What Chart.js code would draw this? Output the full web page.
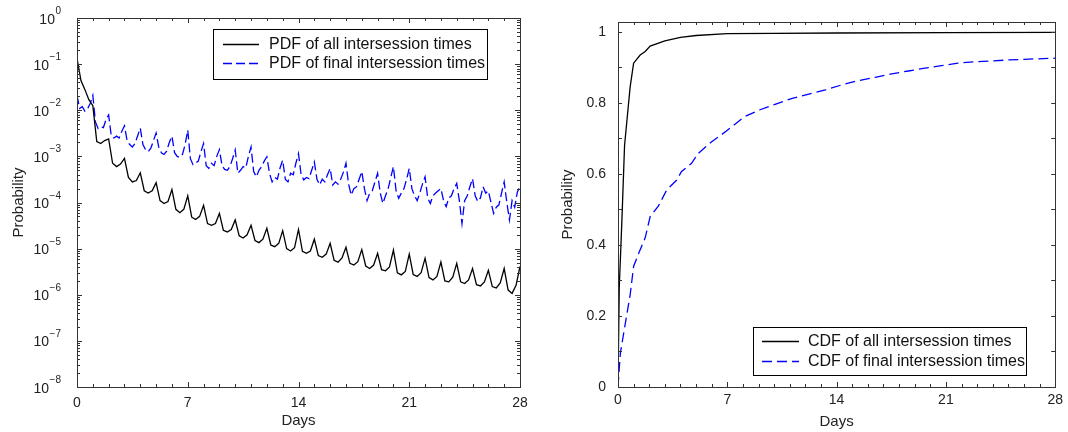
<!DOCTYPE html>
<html>
<head>
<meta charset="utf-8">
<script src="https://cdn.jsdelivr.net/npm/chart.js@4.4.1/dist/chart.umd.min.js"></script>
<style>
  html, body { margin: 0; padding: 0; background: #fff; }
  #wrap { position: relative; width: 1068px; height: 432px; overflow: hidden; }
  #pdfChart { position: absolute; left: 0; top: 0; }
  #cdfChart { position: absolute; left: 540px; top: 0; }
</style>
</head>
<body>
<div id="wrap">
  <canvas id="pdfChart" width="540" height="432"></canvas>
  <canvas id="cdfChart" width="528" height="432"></canvas>
</div>
<script>
/* --- DATA --- */
// PDF of all intersession times, one sample every 6 hours
const pdfAllStep = 0.25;
const pdfAll = [
  1.33e-1, 4.4e-2, 2.8e-2, 1.7e-2,
  1.26e-2, 2.1e-3, 1.9e-3, 2.2e-3,
  2.4e-3, 7.1e-4, 6.0e-4, 6.8e-4,
  9.1e-4, 3.5e-4, 2.8e-4, 3.0e-4,
  4.4e-4, 1.8e-4, 1.6e-4, 1.8e-4,
  2.7e-4, 1.1e-4, 9.5e-5, 1.05e-4,
  1.9e-4, 7.1e-5, 6.0e-5, 7.1e-5,
  1.4e-4, 4.8e-5, 4.3e-5, 5.0e-5,
  8.7e-5, 3.5e-5, 3.2e-5, 3.5e-5,
  5.8e-5, 2.5e-5, 2.3e-5, 2.6e-5,
  4.2e-5, 1.9e-5, 1.7e-5, 2.0e-5,
  3.2e-5, 1.5e-5, 1.35e-5, 1.6e-5,
  2.75e-5, 1.2e-5, 1.1e-5, 1.3e-5,
  2.45e-5, 1.0e-5, 8.9e-6, 1.05e-5,
  2.6e-5, 8.7e-6, 7.9e-6, 8.9e-6,
  1.6e-5, 7.1e-6, 6.5e-6, 7.6e-6,
  1.3e-5, 5.6e-6, 5.1e-6, 6.3e-6,
  1.07e-5, 4.8e-6, 4.4e-6, 5.2e-6,
  9.5e-6, 4.2e-6, 3.7e-6, 4.4e-6,
  7.9e-6, 3.5e-6, 3.3e-6, 4.0e-6,
  9.3e-6, 3.0e-6, 2.7e-6, 3.2e-6,
  7.6e-6, 2.75e-6, 2.5e-6, 3.0e-6,
  6.2e-6, 2.35e-6, 2.1e-6, 2.5e-6,
  5.1e-6, 2.0e-6, 1.9e-6, 2.4e-6,
  4.8e-6, 1.9e-6, 1.75e-6, 2.1e-6,
  3.7e-6, 1.65e-6, 1.55e-6, 1.9e-6,
  3.4e-6, 1.5e-6, 1.4e-6, 1.8e-6,
  3.7e-6, 1.26e-6, 1.07e-6, 1.6e-6,
  4.1e-6
];
// PDF of final intersession times, one sample every 4 hours
const pdfFinalStep = 1 / 6;
const pdfFinal = [
  2.1e-2, 1.1e-2, 1.2e-2, 9.5e-3, 1.07e-2, 1.4e-2,
  2.1e-2, 5.6e-3, 4.0e-3, 4.4e-3, 4.2e-3, 6.3e-3,
  7.9e-3, 2.8e-3, 2.5e-3, 2.75e-3, 2.5e-3, 3.5e-3,
  4.6e-3, 2.2e-3, 1.8e-3, 1.6e-3, 1.9e-3, 2.8e-3,
  4.1e-3, 1.8e-3, 1.4e-3, 1.26e-3, 1.5e-3, 2.2e-3,
  3.2e-3, 1.6e-3, 1.2e-3, 1.1e-3, 1.3e-3, 2.0e-3,
  2.75e-3, 1.2e-3, 1.0e-3, 9.5e-4, 1.1e-3, 1.8e-3,
  3.7e-3, 8.9e-4, 6.6e-4, 7.1e-4, 7.9e-4, 1.26e-3,
  1.9e-3, 6.3e-4, 5.5e-4, 7.1e-4, 6.3e-4, 1.0e-3,
  1.4e-3, 6.3e-4, 5.2e-4, 5.0e-4, 6.0e-4, 8.9e-4,
  1.38e-3, 4.3e-4, 5.0e-4, 6.0e-4, 5.6e-4, 1.0e-3,
  1.6e-3, 4.7e-4, 3.6e-4, 5.0e-4, 6.0e-4, 7.9e-4,
  9.8e-4, 4.3e-4, 2.8e-4, 3.5e-4, 3.2e-4, 5.6e-4,
  8.3e-4, 3.2e-4, 2.8e-4, 4.3e-4, 4.0e-4, 7.1e-4,
  1.15e-3, 4.0e-4, 3.1e-4, 3.5e-4, 3.3e-4, 5.0e-4,
  7.6e-4, 3.2e-4, 2.4e-4, 3.2e-4, 2.8e-4, 4.0e-4,
  5.5e-4, 2.4e-4, 2.8e-4, 2.5e-4, 3.2e-4, 4.5e-4,
  7.1e-4, 2.5e-4, 1.45e-4, 2.0e-4, 2.2e-4, 3.2e-4,
  4.7e-4, 2.0e-4, 1.1e-4, 1.6e-4, 1.8e-4, 2.8e-4,
  4.3e-4, 1.6e-4, 9.5e-5, 1.4e-4, 2.0e-4, 3.5e-4,
  6.0e-4, 1.8e-4, 1.23e-4, 1.6e-4, 2.0e-4, 3.2e-4,
  5.5e-4, 2.0e-4, 1.4e-4, 1.1e-4, 1.6e-4, 2.5e-4,
  3.6e-4, 1.26e-4, 9.5e-5, 1.4e-4, 1.6e-4, 1.8e-4,
  2.0e-4, 1.1e-4, 8.1e-5, 1.26e-4, 1.4e-4, 2.0e-4,
  2.6e-4, 1.1e-4, 3.5e-5, 1.1e-4, 1.4e-4, 2.2e-4,
  3.3e-4, 1.4e-4, 1.05e-4, 1.26e-4, 2.2e-4, 1.6e-4,
  1.8e-4, 1.0e-4, 5.8e-5, 7.9e-5, 8.9e-5, 1.6e-4,
  2.8e-4, 1.0e-4, 4.2e-5, 1.1e-4, 7.9e-5, 1.7e-4,
  2.2e-4
];
// CDFs
const cdfAllDays = [0, 0.08, 0.25, 0.42, 0.57, 0.78, 1.0, 1.42, 1.74, 2.06, 3, 4, 5, 7, 10, 14, 21, 28];
const cdfAll = [0, 0.28, 0.47, 0.68, 0.75, 0.846, 0.912, 0.935, 0.945, 0.96, 0.975, 0.985, 0.99, 0.995, 0.996, 0.997, 0.998, 0.999];
const cdfFinalDays = [0, 0.15, 0.51, 0.78, 1.0, 1.32, 1.74, 2.06, 2.59, 3.12, 3.76, 4.07, 4.71, 5.14, 5.98, 6.92,
  8.08, 9.04, 10.1, 11.16, 12.22, 13.28, 14.34, 15.4, 16.47, 17.53, 18.59, 19.65, 20.71, 21.77, 22.83, 23.89, 24.95, 26.01, 28];
const cdfFinal = [0, 0.095, 0.19, 0.26, 0.34, 0.376, 0.42, 0.48, 0.51, 0.555, 0.583, 0.607, 0.63, 0.658, 0.69, 0.72,
  0.761, 0.78, 0.797, 0.813, 0.825, 0.837, 0.851, 0.863, 0.872, 0.882, 0.89, 0.898, 0.905, 0.912, 0.916, 0.918, 0.921, 0.923, 0.926];

// ticks
const dayTicks = [0, 7, 14, 21, 28];
const probTicks = [0, 0.2, 0.4, 0.6, 0.8, 1];
const decadeExps = [0, -1, -2, -3, -4, -5, -6, -7, -8];

/* --- CONFIGURATION --- */
Chart.defaults.font.family = '"Liberation Sans", Arial, Helvetica, sans-serif';
Chart.defaults.color = '#222';
const colors = { all: '#000000', final: '#0000ff', frame: '#333333' };

const sampled = (vals, step) => vals.map((v, i) => ({ x: i * step, y: v }));
const paired = (days, vals) => days.map((d, i) => ({ x: d, y: vals[i] }));

// inward tick marks on all four sides + frame
const frameTicks = {
  id: 'frameTicks',
  afterDatasetsDraw(chart, args, opts) {
    const { ctx, chartArea: a, scales: { x, y } } = chart;
    ctx.save();
    ctx.strokeStyle = colors.frame;
    ctx.lineWidth = 1;
    ctx.beginPath();
    for (let d = 0; d <= 28; d++) {
      const px = Math.round(x.getPixelForValue(d)) + 0.5;
      const len = dayTicks.includes(d) ? 5 : 3;
      ctx.moveTo(px, a.bottom); ctx.lineTo(px, a.bottom - len);
      ctx.moveTo(px, a.top); ctx.lineTo(px, a.top + len);
    }
    opts.yTicks.forEach(t => {
      const py = Math.round(y.getPixelForValue(t.v)) + 0.5;
      ctx.moveTo(a.left, py); ctx.lineTo(a.left + t.len, py);
      ctx.moveTo(a.right, py); ctx.lineTo(a.right - t.len, py);
    });
    ctx.stroke();
    ctx.strokeRect(Math.round(a.left) + 0.5, Math.round(a.top) + 0.5, Math.round(a.width), Math.round(a.height));
    ctx.restore();
  }
};

// 10^n labels with a raised exponent
const powLabels = {
  id: 'powLabels',
  afterDraw(chart, args, opts) {
    if (!opts.show) return;
    const { ctx, chartArea: a, scales: { y } } = chart;
    ctx.save();
    ctx.fillStyle = '#222';
    ctx.textAlign = 'right';
    ctx.textBaseline = 'alphabetic';
    decadeExps.forEach(e => {
      const py = y.getPixelForValue(Math.pow(10, e));
      const exp = e === 0 ? '0' : '\u2212' + (-e);
      const xr = a.left - 16;
      ctx.font = '10px "Liberation Sans", Arial, sans-serif';
      ctx.fillText(exp, xr, py - 4);
      const w = ctx.measureText(exp).width;
      ctx.font = '14px "Liberation Sans", Arial, sans-serif';
      ctx.fillText('10', xr - w - 0.5, py + 5.5);
    });
    ctx.restore();
  }
};

// boxed legend
const boxLegend = {
  id: 'boxLegend',
  afterDraw(chart, args, o) {
    const ctx = chart.ctx;
    ctx.save();
    ctx.fillStyle = '#fff';
    ctx.fillRect(o.x, o.y, o.w, o.h);
    ctx.strokeStyle = '#000';
    ctx.lineWidth = 1;
    ctx.strokeRect(o.x + 0.5, o.y + 0.5, o.w, o.h);
    ctx.font = '16px "Liberation Sans", Arial, sans-serif';
    ctx.textBaseline = 'middle';
    ctx.textAlign = 'left';
    chart.data.datasets.forEach((ds, i) => {
      const ry = o.y + o.rows[i];
      ctx.strokeStyle = ds.borderColor;
      ctx.lineWidth = ds.borderWidth;
      ctx.setLineDash(ds.borderDash || []);
      ctx.beginPath();
      ctx.moveTo(o.x + o.line[0], ry + 0.5);
      ctx.lineTo(o.x + o.line[1], ry + 0.5);
      ctx.stroke();
      ctx.setLineDash([]);
      ctx.fillStyle = '#111';
      ctx.fillText(ds.label, o.x + o.textX, ry + 1);
    });
    ctx.restore();
  }
};

function xScale(titlePad, tickPad) {
  return {
    type: 'linear', min: 0, max: 28,
    afterBuildTicks: s => { s.ticks = dayTicks.map(v => ({ value: v })); },
    afterFit: s => { s.height = 45; },
    grid: { display: false, drawTicks: false },
    border: { display: false },
    ticks: { padding: tickPad, maxRotation: 0, autoSkip: false, font: { size: 14 } },
    title: { display: true, text: 'Days', font: { size: 15 }, padding: { top: 0, bottom: titlePad } }
  };
}

const lineStyle = (color, dash) => ({
  borderColor: color, backgroundColor: color, borderWidth: 1.3,
  borderDash: dash, pointRadius: 0, tension: 0, fill: false
});

// log-axis tick marks: decades long, 2..9 short
const logTicks = [];
decadeExps.forEach(e => {
  logTicks.push({ v: Math.pow(10, e), len: 5 });
  if (e < 0) for (let m = 2; m <= 9; m++) logTicks.push({ v: m * Math.pow(10, e), len: 3 });
});
const linTicks = [];
for (let k = 0; k <= 10; k++) linTicks.push({ v: k / 10, len: 4 });

new Chart(document.getElementById('pdfChart'), {
  type: 'line',
  data: {
    datasets: [
      { label: 'PDF of all intersession times', data: sampled(pdfAll, pdfAllStep), ...lineStyle(colors.all, []) },
      { label: 'PDF of final intersession times', data: sampled(pdfFinal, pdfFinalStep), ...lineStyle(colors.final, [9, 4]) }
    ]
  },
  options: {
    responsive: false, animation: false,
    layout: { padding: { top: 18, right: 20, left: 0, bottom: 0 } },
    scales: {
      x: xScale(2, 8),
      y: {
        type: 'logarithmic', min: 1e-8, max: 1,
        afterBuildTicks: s => { s.ticks = decadeExps.map(e => ({ value: Math.pow(10, e) })); },
        afterFit: s => { s.width = 77; },
        grid: { display: false, drawTicks: false },
        border: { display: false },
        ticks: { display: false },
        title: { display: true, text: 'Probability', font: { size: 15 }, padding: { top: 10, bottom: 0 } }
      }
    },
    plugins: {
      legend: { display: false }, tooltip: { enabled: false },
      frameTicks: { yTicks: logTicks },
      powLabels: { show: true },
      boxLegend: { x: 213, y: 29, w: 274, h: 50, rows: [15, 34], line: [10, 46], textX: 56 }
    }
  },
  plugins: [frameTicks, powLabels, boxLegend]
});

new Chart(document.getElementById('cdfChart'), {
  type: 'line',
  data: {
    datasets: [
      { label: 'CDF of all intersession times', data: paired(cdfAllDays, cdfAll), ...lineStyle(colors.all, []) },
      { label: 'CDF of final intersession times', data: paired(cdfFinalDays, cdfFinal), ...lineStyle(colors.final, [10, 5]) }
    ]
  },
  options: {
    responsive: false, animation: false,
    layout: { padding: { top: 22, right: 10, left: 0, bottom: 0 } },
    scales: {
      x: xScale(1, 5),
      y: {
        type: 'linear', min: 0, max: 1.028,
        afterBuildTicks: s => { s.ticks = probTicks.map(v => ({ value: v })); },
        afterFit: s => { s.width = 78; },
        grid: { display: false, drawTicks: false },
        border: { display: false },
        ticks: { padding: 12, font: { size: 14 }, callback: v => String(v) },
        title: { display: true, text: 'Probability', font: { size: 15 }, padding: { top: 19, bottom: 0 } }
      }
    },
    plugins: {
      legend: { display: false }, tooltip: { enabled: false },
      frameTicks: { yTicks: linTicks },
      powLabels: { show: false },
      boxLegend: { x: 213, y: 327, w: 273, h: 48, rows: [14, 34], line: [9, 46], textX: 55 }
    }
  },
  plugins: [frameTicks, powLabels, boxLegend]
});
</script>
</body>
</html>
